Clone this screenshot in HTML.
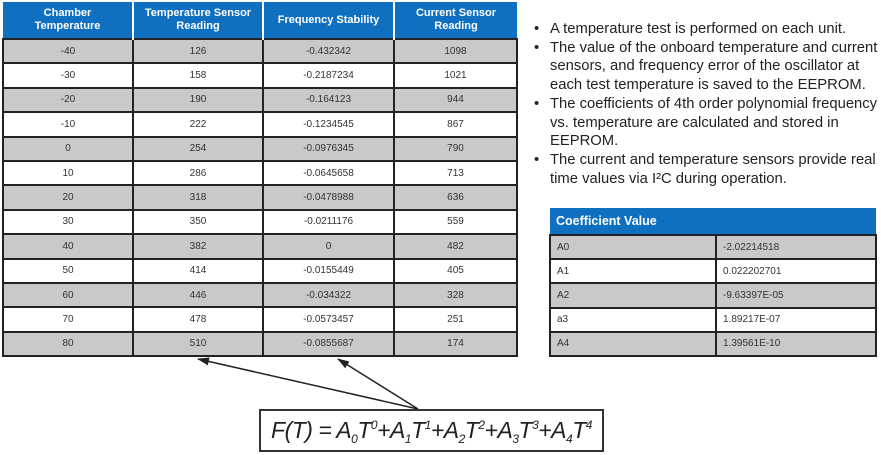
<!DOCTYPE html><html><head><style>
body{margin:0;width:881px;height:455px;background:#fff;position:relative;overflow:hidden;font-family:"Liberation Sans",sans-serif}
table{border-collapse:collapse;position:absolute}
#t1{left:2px;top:2px;width:516px;font-size:10px;color:#333}
#t1 th{background:#0f6fc0;color:#fff;font-size:11px;font-weight:bold;height:36px;border-left:2px solid #fff;padding:0;line-height:13px}
#t1 th:first-child{border-left:none}
#t1 td{height:22.4px;border:2px solid #222;text-align:center;padding:0}
#t1 tr.g td{background:#c9c9c9}
#t2{left:549px;top:208px;width:328px;font-size:10px;color:#333}
#t2 th{background:#0f6fc0;color:#fff;text-align:left;font-size:12.5px;height:26px;padding:0 0 0 6px}
#t2 td{height:22.2px;border:2px solid #222;padding:0 0 0 6px}
#t2 tr.g td{background:#c9c9c9}
.b{position:absolute;left:534px;font-size:14.8px;color:#222;letter-spacing:0;white-space:nowrap}
.b span{position:absolute;left:16px}
#f{position:absolute;left:259px;top:409px;width:345px;height:43px;border:2px solid #333;box-sizing:border-box;font-family:"Liberation Sans",sans-serif;font-style:italic;font-size:23px;color:#222;text-align:center;line-height:38px;letter-spacing:-0.5px;overflow:hidden}
sub{font-size:12px;vertical-align:-5px;line-height:0}
sup{font-size:12px;vertical-align:9px;line-height:0}
</style></head><body>
<table id="t1">
<tr><th style="width:129px">Chamber<br>Temperature</th><th style="width:128px">Temperature Sensor<br>Reading</th><th style="width:129px">Frequency Stability</th><th>Current Sensor<br>Reading</th></tr>
<tr class="g"><td>-40</td><td>126</td><td>-0.432342</td><td>1098</td></tr>
<tr><td>-30</td><td>158</td><td>-0.2187234</td><td>1021</td></tr>
<tr class="g"><td>-20</td><td>190</td><td>-0.164123</td><td>944</td></tr>
<tr><td>-10</td><td>222</td><td>-0.1234545</td><td>867</td></tr>
<tr class="g"><td>0</td><td>254</td><td>-0.0976345</td><td>790</td></tr>
<tr><td>10</td><td>286</td><td>-0.0645658</td><td>713</td></tr>
<tr class="g"><td>20</td><td>318</td><td>-0.0478988</td><td>636</td></tr>
<tr><td>30</td><td>350</td><td>-0.0211176</td><td>559</td></tr>
<tr class="g"><td>40</td><td>382</td><td>0</td><td>482</td></tr>
<tr><td>50</td><td>414</td><td>-0.0155449</td><td>405</td></tr>
<tr class="g"><td>60</td><td>446</td><td>-0.034322</td><td>328</td></tr>
<tr><td>70</td><td>478</td><td>-0.0573457</td><td>251</td></tr>
<tr class="g"><td>80</td><td>510</td><td>-0.0855687</td><td>174</td></tr>
</table>
<table id="t2">
<tr><th colspan="2">Coefficient Value</th></tr>
<tr class="g"><td style="width:158px">A0</td><td>-2.02214518</td></tr>
<tr><td>A1</td><td>0.022202701</td></tr>
<tr class="g"><td>A2</td><td>-9.63397E-05</td></tr>
<tr><td>a3</td><td>1.89217E-07</td></tr>
<tr class="g"><td>A4</td><td>1.39561E-10</td></tr>
</table>
<div class="b" style="top:21px">•<span>A temperature test is performed on each unit.</span></div>
<div class="b" style="top:40px">•<span>The value of the onboard temperature and current</span></div>
<div class="b" style="top:58px"><span>sensors, and frequency error of the oscillator at</span></div>
<div class="b" style="top:77px"><span>each test temperature is saved to the EEPROM.</span></div>
<div class="b" style="top:96px">•<span>The coefficients of 4th order polynomial frequency</span></div>
<div class="b" style="top:115px"><span>vs. temperature are calculated and stored in</span></div>
<div class="b" style="top:133px"><span>EEPROM.</span></div>
<div class="b" style="top:152px">•<span>The current and temperature sensors provide real</span></div>
<div class="b" style="top:171px"><span>time values via I²C during operation.</span></div>
<svg style="position:absolute;left:0;top:0" width="881" height="455">
<defs><marker id="a" markerWidth="12" markerHeight="8" refX="11" refY="4" orient="auto" markerUnits="userSpaceOnUse"><path d="M0,0L12,4L0,8z" fill="#222"/></marker></defs>
<line x1="418" y1="409" x2="198" y2="359" stroke="#222" stroke-width="1.5" marker-end="url(#a)"/>
<line x1="418" y1="409" x2="338" y2="359" stroke="#222" stroke-width="1.5" marker-end="url(#a)"/>
</svg>
<div id="f">F(T) = A<sub>0</sub>T<sup>0</sup>+A<sub>1</sub>T<sup>1</sup>+A<sub>2</sub>T<sup>2</sup>+A<sub>3</sub>T<sup>3</sup>+A<sub>4</sub>T<sup>4</sup></div>
</body></html>
